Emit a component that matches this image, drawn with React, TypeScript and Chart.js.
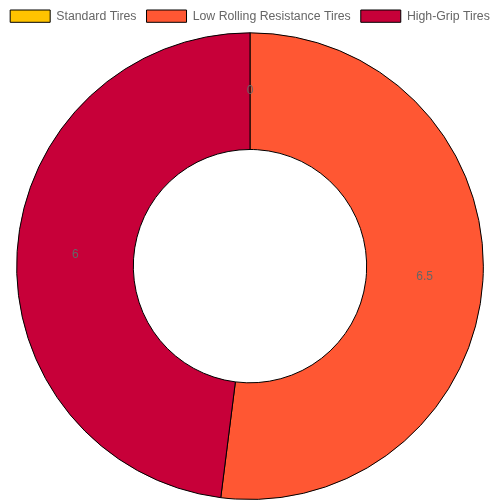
import { useEffect, useRef } from "react";
import Chart from "chart.js/auto";

const categories = ["Standard Tires", "Low Rolling Resistance Tires", "High-Grip Tires"];
const values = [0, 6.5, 6];
const colors = ["#FFC300", "#FF5733", "#C70039"];

// draws each slice's value at the arc centre
const sliceLabels = {
  id: "sliceLabels",
  afterDatasetsDraw(chart: any) {
    const ctx = chart.ctx;
    const meta = chart.getDatasetMeta(0);
    ctx.save();
    ctx.font = "12px 'Liberation Sans', Arial, sans-serif";
    ctx.fillStyle = "#666";
    ctx.textAlign = "center";
    ctx.textBaseline = "middle";
    meta.data.forEach((arc: any, i: number) => {
      const p = arc.getCenterPoint();
      ctx.fillText(String(values[i]), p.x, p.y);
    });
    ctx.restore();
  },
};

export default function App() {
  const chartRef = useRef<HTMLCanvasElement>(null);
  const chartInstance = useRef<Chart | null>(null);

  useEffect(() => {
    document.body.style.margin = "0";
    if (chartRef.current) {
      const ctx = chartRef.current.getContext("2d");
      if (ctx) {
        if (chartInstance.current) {
          chartInstance.current.destroy();
        }
        chartInstance.current = new Chart(ctx, {
          type: "doughnut",
          data: {
            labels: categories,
            datasets: [
              {
                data: values,
                backgroundColor: colors,
                borderColor: "#000",
                borderWidth: 1,
              },
            ],
          },
          options: {
            responsive: true,
            maintainAspectRatio: false,
            animation: false,
            cutout: "50%",
            plugins: {
              legend: {
                position: "top",
                labels: {
                  color: "#666",
                  font: { family: "'Liberation Sans', Arial, sans-serif", size: 12.3 },
                },
              },
              tooltip: { enabled: false },
            },
          },
          plugins: [sliceLabels],
        });
      }
    }

    return () => {
      if (chartInstance.current) {
        chartInstance.current.destroy();
        chartInstance.current = null;
      }
    };
  }, []);

  return (
    <div style={{ width: 500, height: 500, position: "relative" }}>
      <canvas ref={chartRef} />
    </div>
  );
}
